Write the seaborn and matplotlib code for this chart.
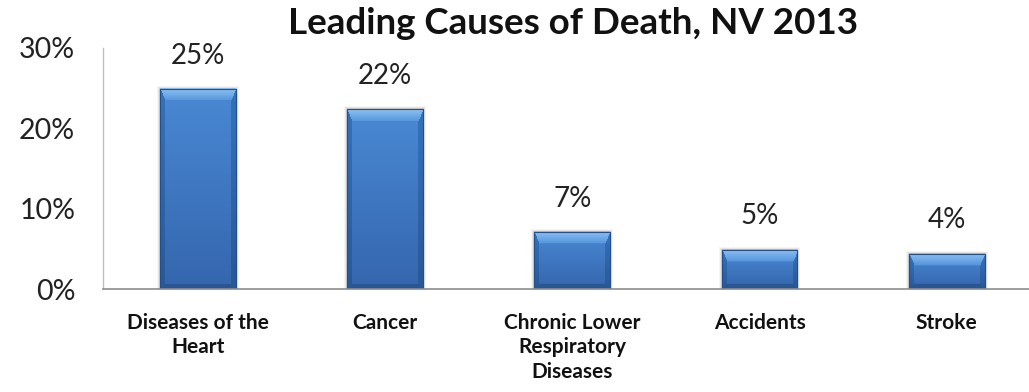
import numpy as np
import pandas as pd
import matplotlib
matplotlib.use("Agg")
import matplotlib.pyplot as plt
import seaborn as sns
from matplotlib.colors import to_rgb

causes = ["Diseases of the\nHeart", "Cancer", "Chronic Lower\nRespiratory\nDiseases",
          "Accidents", "Stroke"]
share_pct = [24.9, 22.4, 7.1, 4.9, 4.4]
y_ticks = [0, 10, 20, 30]
y_tick_labels = ["0%", "10%", "20%", "30%"]
title = "Leading Causes of Death, NV 2013"

df = pd.DataFrame({"cause": causes, "share": share_pct})

sns.set_theme(style="white")
plt.rcParams["font.family"] = ["Lato", "DejaVu Sans"]

fig = plt.figure(figsize=(10.29, 3.92), dpi=100)
ax = fig.add_axes([103 / 1029, 103 / 392, 926 / 1029, 241 / 392])

sns.barplot(data=df, x="cause", y="share", color="#3f7bc6", width=0.405,
            saturation=1, edgecolor="#22508c", linewidth=0.8, ax=ax)

ax.set_xlim(-0.508, 4.44)
ax.set_ylim(0, 30)


def mix(c1, c2, t):
    a, b = np.array(to_rgb(c1)), np.array(to_rgb(c2))
    return a + (b - a) * np.clip(t, 0, 1)[..., None]


def bevel_image(w_px, h_px):
    """RGB raster of a bevelled bar: light top facet, dark side and bottom facets."""
    yy, xx = np.mgrid[0:h_px, 0:w_px].astype(float)
    # yy = 0 at the top of the bar
    t_body = yy / max(h_px - 1, 1)
    img = mix("#4a89d4", "#3466ad", t_body)
    side = 5.0
    top = min(12.0, h_px * 0.32)
    bottom = min(5.0, h_px * 0.15)
    left_f = xx < side
    right_f = xx >= w_px - side
    img[left_f | right_f] = mix("#3572bd", "#2a5896", t_body)[left_f | right_f]
    # top facet as a trapezoid
    inset = yy / top * side
    top_f = (yy < top) & (xx >= inset) & (xx < w_px - inset)
    img[top_f] = mix("#8cc0f2", "#5595dc", yy / top)[top_f]
    bot_f = (yy >= h_px - bottom) & (xx >= (h_px - yy) / bottom * side) & \
        (xx < w_px - (h_px - yy) / bottom * side)
    img[bot_f] = np.array(to_rgb("#2a5690"))
    return img


to_px = ax.transData
for patch in ax.patches:
    x0, y0 = patch.get_x(), patch.get_y()
    w, h = patch.get_width(), patch.get_height()
    (px0, py0), (px1, py1) = to_px.transform([(x0, y0), (x0 + w, y0 + h)])
    w_px, h_px = int(round(px1 - px0)), int(round(py1 - py0))
    z = patch.get_zorder()
    # soft drop shadow
    for k, a in ((3, 0.04), (2, 0.06), (1, 0.08)):
        dx = k / (px1 - px0) * w
        ax.add_patch(plt.Rectangle((x0 - dx, y0), w + 2 * dx, h + k * 30 / 241,
                                   facecolor="#000000", alpha=a, edgecolor="none",
                                   zorder=z - 0.5))
    ax.imshow(bevel_image(w_px, h_px), aspect="auto", origin="upper",
              extent=(x0, x0 + w, y0, y0 + h), zorder=z + 0.1,
              interpolation="bilinear")
    ax.add_patch(plt.Rectangle((x0, y0), w, h, fill=False, edgecolor="#22508c",
                               linewidth=0.8, zorder=z + 0.3))

for patch, v in zip(ax.patches, share_pct):
    ax.annotate(f"{v:.0f}%", (patch.get_x() + patch.get_width() / 2, v),
                xytext=(0, 24), textcoords="offset points", ha="center",
                va="center", fontsize=20, color="#222222")

ax.set_xlim(-0.508, 4.44)
ax.set_ylim(0, 30)
ax.set_yticks(y_ticks)
ax.set_yticklabels(y_tick_labels, fontsize=20.5, color="#222222")
ax.set_xlabel("")
ax.set_ylabel("")
ax.tick_params(axis="y", length=0, pad=20)
ax.tick_params(axis="x", length=0, pad=17)
for lbl in ax.get_xticklabels():
    lbl.set_fontsize(15)
    lbl.set_fontweight("bold")
    lbl.set_color("#111111")
    lbl.set_linespacing(1.3)
    lbl.set_va("top")

for side in ["top", "right"]:
    ax.spines[side].set_visible(False)
ax.spines["left"].set_color("#bfbfbf")
ax.spines["bottom"].set_color("#8c8c8c")
ax.spines["left"].set_linewidth(1)
ax.spines["bottom"].set_linewidth(1.2)
ax.spines["bottom"].set_zorder(10)

fig.text(573 / 1029, 1 - 24 / 392, title, ha="center", va="center",
         fontsize=26.5, fontweight="bold", color="#111111")

fig.savefig("out.png", dpi=100, facecolor="white")
